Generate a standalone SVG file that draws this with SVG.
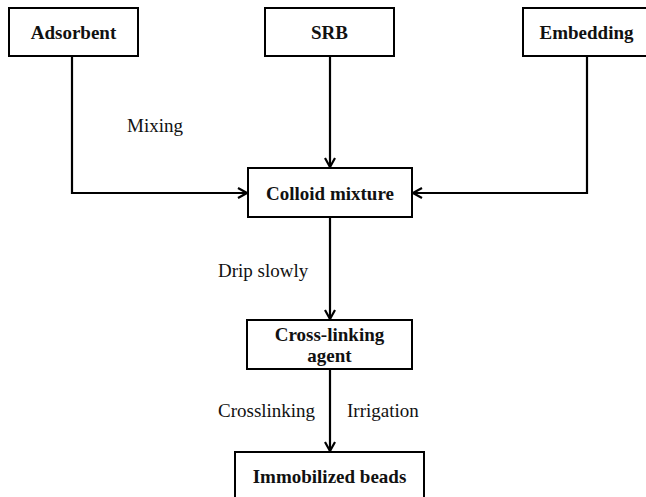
<svg xmlns="http://www.w3.org/2000/svg" width="646" height="497" viewBox="0 0 646 497">
<defs>
<style>
.box{fill:#fff;stroke:#000;stroke-width:2}
.t{font-family:"Liberation Serif","Times New Roman",serif;font-size:19px;font-weight:bold;text-anchor:middle;fill:#111}
.l{font-family:"Liberation Serif","Times New Roman",serif;font-size:19px;fill:#111}
.c{fill:none;stroke:#000;stroke-width:2.2}
</style>
<marker id="ah" viewBox="0 0 12 12" refX="11" refY="6" markerWidth="12" markerHeight="12" markerUnits="userSpaceOnUse" orient="auto">
<path d="M2,1 L11,6 L2,11" fill="none" stroke="#000" stroke-width="2.2"/>
</marker>
</defs>
<rect width="646" height="497" fill="#fff"/>
<g id="connectors">
<polyline class="c" points="72,56 72,193 247,193" marker-end="url(#ah)"/>
<line class="c" x1="330" y1="56" x2="330" y2="167" marker-end="url(#ah)"/>
<polyline class="c" points="587,56 587,193 413,193" marker-end="url(#ah)"/>
<line class="c" x1="330" y1="217" x2="330" y2="319" marker-end="url(#ah)"/>
<line class="c" x1="330" y1="369" x2="330" y2="451" marker-end="url(#ah)"/>
<text class="l" x="127" y="132">Mixing</text>
<text class="l" x="218" y="277">Drip slowly</text>
<text class="l" x="218" y="417">Crosslinking</text>
<text class="l" x="347" y="417">Irrigation</text>
</g>
<g id="adsorbent"><rect class="box" x="9" y="8" width="129" height="48"/><text class="t" x="73.5" y="39">Adsorbent</text></g>
<g id="srb"><rect class="box" x="265" y="8" width="129" height="48"/><text class="t" x="329.5" y="39">SRB</text></g>
<g id="embedding"><rect class="box" x="523" y="8" width="140" height="48"/><text class="t" x="586.5" y="39">Embedding</text></g>
<g id="colloid"><rect class="box" x="248" y="168" width="164" height="49"/><text class="t" x="330" y="200">Colloid mixture</text></g>
<g id="crosslinking"><rect class="box" x="247" y="320" width="165" height="49"/><text class="t" x="329.5" y="341">Cross-linking</text><text class="t" x="329.5" y="362">agent</text></g>
<g id="beads"><rect class="box" x="235" y="452" width="189" height="60"/><text class="t" x="329.5" y="483">Immobilized beads</text></g>
</svg>
